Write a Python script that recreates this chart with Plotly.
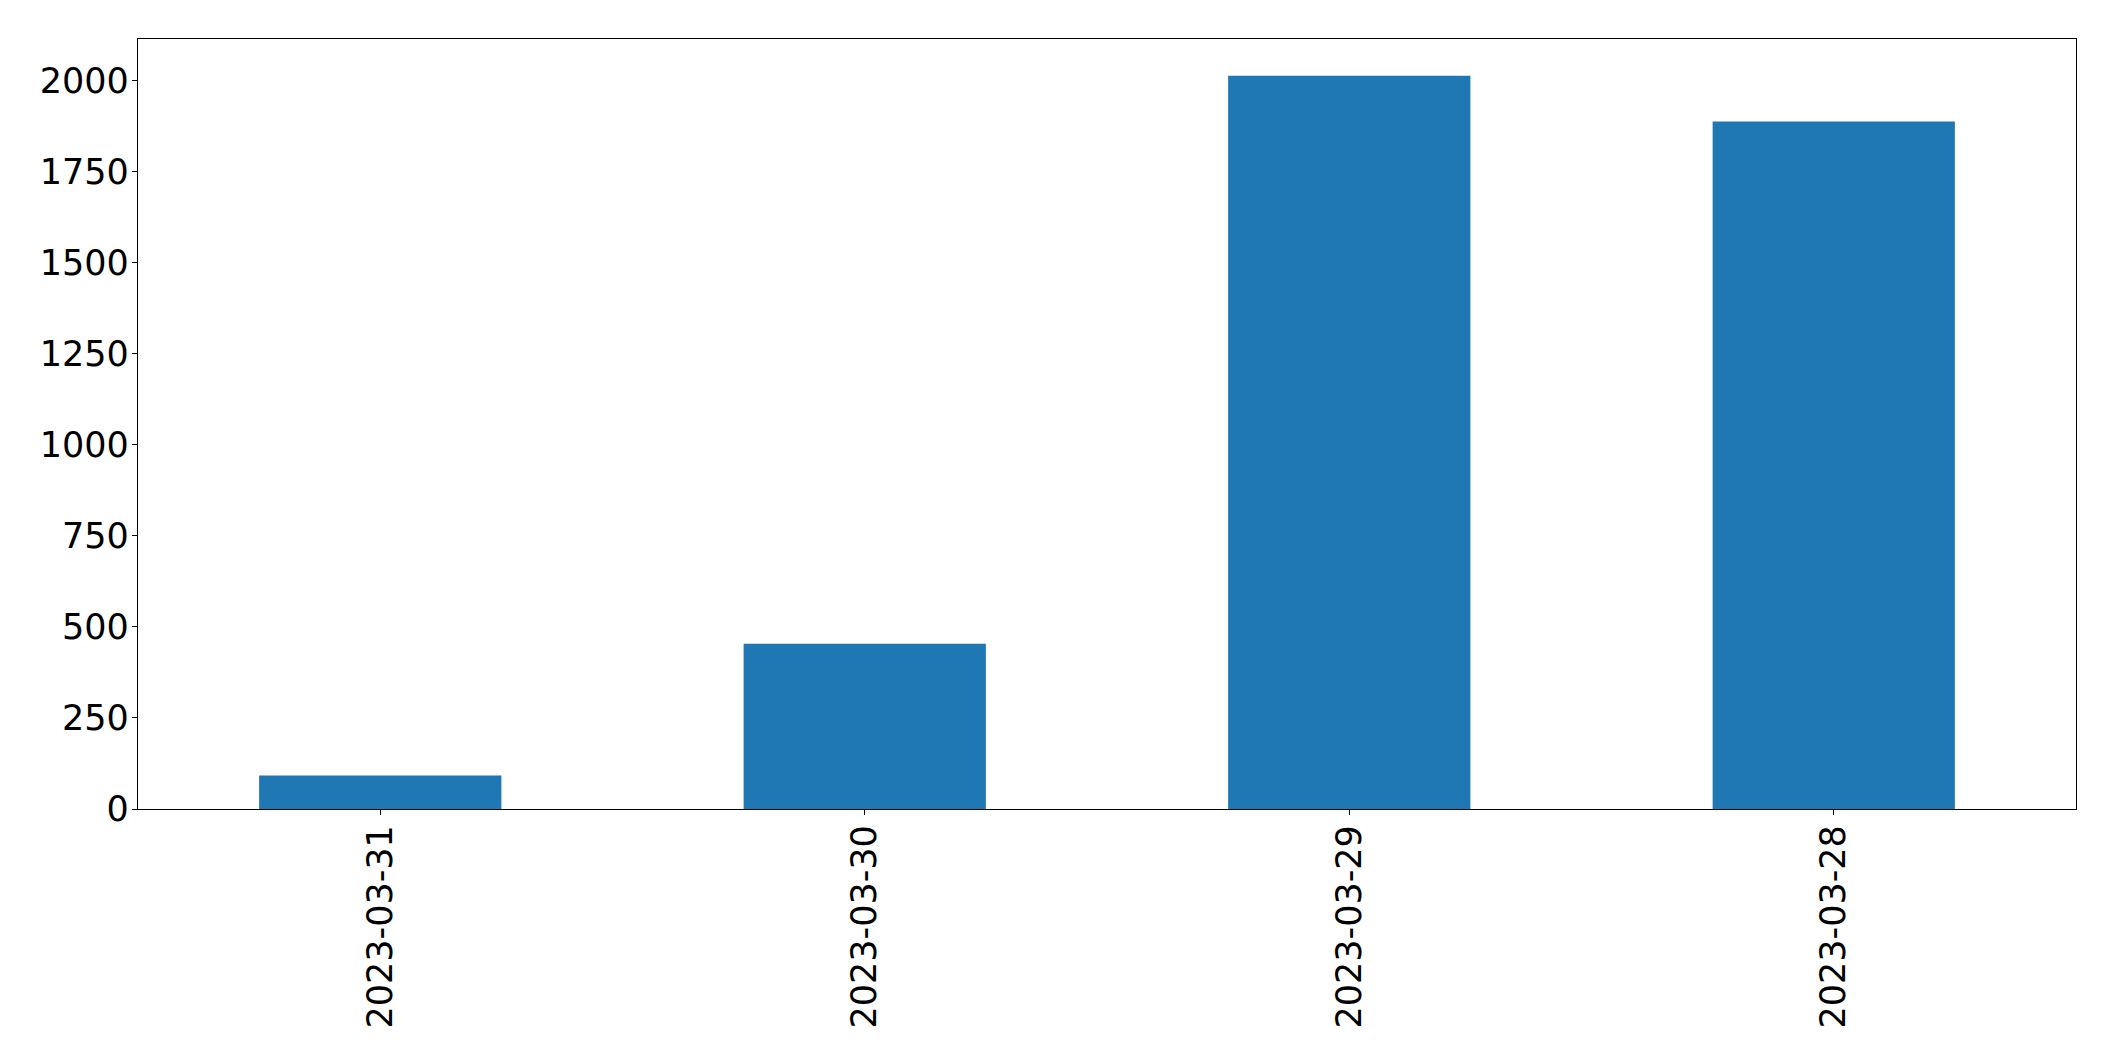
import plotly.graph_objects as go

categories = ["2023-03-31", "2023-03-30", "2023-03-29", "2023-03-28"]
values = [92, 454, 2014, 1888]
y_ticks = [0, 250, 500, 750, 1000, 1250, 1500, 1750, 2000]

W, H = 2115, 1061
FONT = "DejaVu Sans"

fig = go.Figure(
    go.Bar(
        x=categories,
        y=values,
        marker=dict(color="#1f77b4", line=dict(width=0)),
        width=0.5,
    )
)

axis_common = dict(
    showline=True,
    linecolor="black",
    linewidth=1.3,
    mirror=True,
    ticks="outside",
    ticklen=5,
    tickwidth=1.3,
    tickcolor="black",
    showgrid=False,
    zeroline=False,
    tickfont=dict(family=FONT, size=35, color="black"),
)

fig.update_layout(
    width=W,
    height=H,
    autosize=False,
    margin=dict(l=130, r=47, t=31, b=260),
    paper_bgcolor="white",
    plot_bgcolor="white",
    showlegend=False,
    xaxis=dict(
        type="category",
        range=[-0.5, len(categories) - 0.5],
        tickangle=-90,
        ticklabelstandoff=-4,
        **axis_common,
    ),
    yaxis=dict(
        range=[0, max(values) * 1.05],
        tickmode="array",
        tickvals=y_ticks,
        ticktext=[str(v) for v in y_ticks],
        ticklabelstandoff=-4,
        **axis_common,
    ),
)

fig.write_html("out.html")
